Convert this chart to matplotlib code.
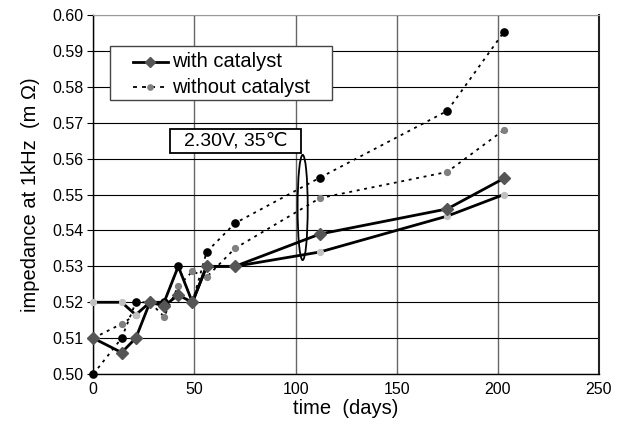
import numpy as np
import matplotlib.pyplot as plt
from matplotlib.patches import Ellipse, Rectangle

plt.rcParams['font.family'] = ['Liberation Sans', 'DejaVu Sans']

# measurement days
days = [0, 14, 21, 28, 35, 42, 49, 56, 70, 112, 175, 203]

# with catalyst (two cells)
with_a = [0.510, 0.506, 0.510, 0.520, 0.519, 0.522, 0.520, 0.530, 0.530, 0.539, 0.546, 0.5545]
with_b = [0.520, 0.520, 0.5165, 0.520, 0.520, 0.530, 0.520, 0.530, 0.530, 0.534, 0.544, 0.550]

# without catalyst (two cells)
without_a = [0.500, 0.510, 0.520, 0.520, 0.520, 0.530, 0.520, 0.534, 0.542, 0.5547, 0.5733, 0.5953]
without_b = [0.510, 0.514, 0.5165, 0.520, 0.516, 0.5245, 0.5286, 0.527, 0.535, 0.549, 0.5563, 0.568]

fig = plt.figure(figsize=(6.22, 4.29), dpi=100)
ax = fig.add_axes([0.150, 0.128, 0.813, 0.837])

dot = (0, (1.6, 2.6))
ax.plot(days, without_b, color='black', lw=1.3, ls=dot, marker='o', ms=4.2,
        mfc='#808080', mec='#808080', clip_on=False, zorder=3)
ax.plot(days, with_b, color='black', lw=2.0, marker='o', ms=4.2,
        mfc='#c0c0c0', mec='#c0c0c0', clip_on=False, zorder=4)
ax.plot(days, without_a, color='black', lw=1.3, ls=dot, marker='o', ms=5.2,
        mfc='black', mec='black', clip_on=False, zorder=5)
ax.plot(days, with_a, color='black', lw=2.0, marker='D', ms=6.5,
        mfc='#555555', mec='#555555', clip_on=False, zorder=6)

ax.set_xlim(0, 250)
ax.set_ylim(0.50, 0.60)
ax.set_xticks(np.arange(0, 251, 50))
ax.set_yticks(np.arange(0.50, 0.601, 0.01))
ax.yaxis.set_major_formatter(plt.FormatStrFormatter('%.2f'))
ax.tick_params(axis='y', direction='out', length=4, labelsize=11.5, pad=3)
ax.tick_params(axis='x', length=0, labelsize=11.5, pad=6)
ax.grid(axis='y', color='black', lw=0.8)
ax.grid(axis='x', color='#666666', lw=1.0)
ax.set_axisbelow(True)
for s in ['left', 'bottom']:
    ax.spines[s].set_linewidth(1.0)
ax.spines['top'].set_color('#999999')
ax.spines['right'].set_color('#222222')
ax.spines['right'].set_linewidth(1.5)

ax.set_xlabel('time  (days)', fontsize=14.5, labelpad=1)
ax.set_ylabel('impedance at 1kHz  (m Ω)', fontsize=14.5, labelpad=9)

# legend, drawn in axes fraction
tr = ax.transAxes
ax.add_patch(Rectangle((0.033, 0.7632), 0.439, 0.1513, transform=tr, fc='white',
                       ec='#444444', lw=1.0, zorder=8))
ax.plot([0.0785, 0.1477], [0.870, 0.870], transform=tr, color='black', lw=2.0, zorder=9)
ax.plot([0.113], [0.870], transform=tr, marker='D', ms=5, mfc='#555555', mec='#555555', zorder=10)
ax.plot([0.0785, 0.1477], [0.7986, 0.7986], transform=tr, color='black', lw=1.3, ls=(0, (2.2, 2.8)), zorder=9)
ax.plot([0.113], [0.7986], transform=tr, marker='o', ms=3.8, mfc='#808080', mec='#808080', zorder=10)
ax.text(0.1556, 0.870, 'with catalyst', transform=tr, fontsize=14.5, va='center', zorder=10)
ax.text(0.1556, 0.7986, 'without catalyst', transform=tr, fontsize=14.5, va='center', zorder=10)

# condition label and ellipse
ax.add_patch(Ellipse((103.5, 0.5464), 5, 0.0293, fill=False, ec='black', lw=1.3, zorder=7))
ax.add_patch(Rectangle((37.9, 0.5616), 64.8, 0.0066, fc='white', ec='black', lw=1.3, zorder=8))
ax.text(70.3, 0.5650, '2.30V, 35\u2103', fontsize=14, ha='center', va='center', zorder=9)

fig.savefig('out.png', dpi=100)
